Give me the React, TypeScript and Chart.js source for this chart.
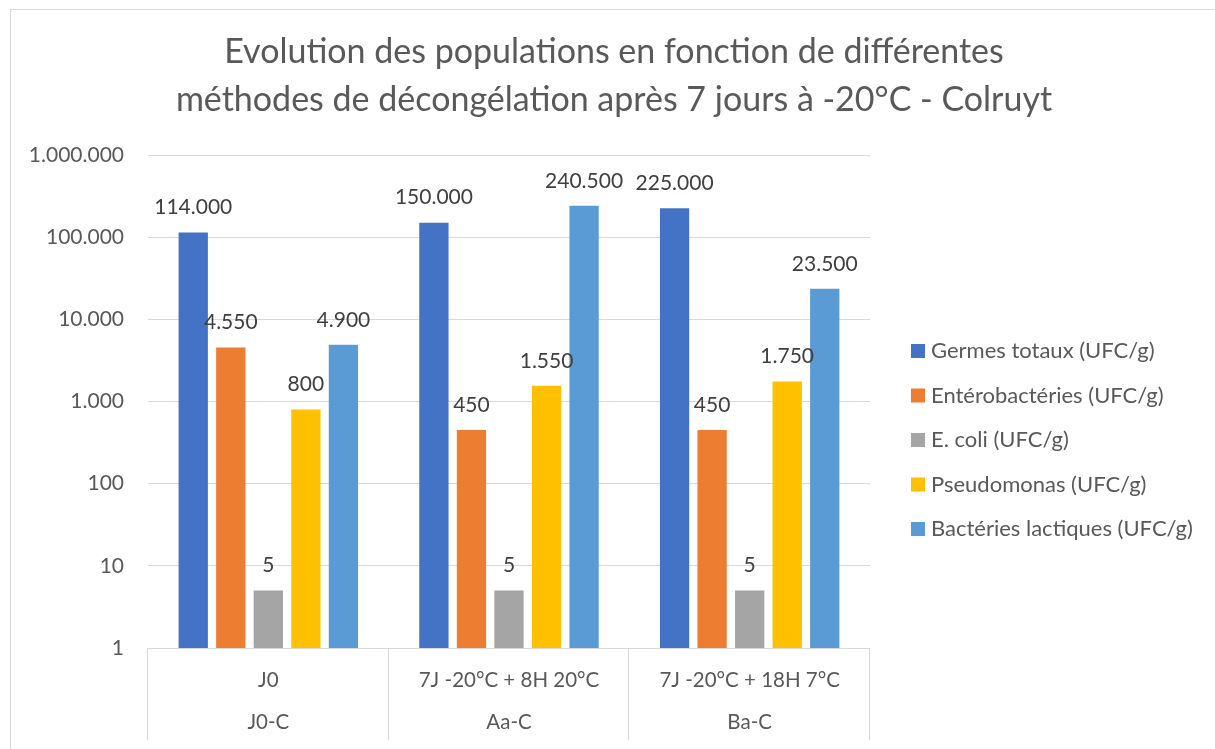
import React, { useEffect, useRef } from "react";
import { Chart, registerables } from "chart.js";

Chart.register(...registerables);

const categories = ["J0", "7J -20°C + 8H 20°C", "7J -20°C + 18H 7°C"];
const groups = ["J0-C", "Aa-C", "Ba-C"];
const seriesNames = [
  "Germes totaux (UFC/g)",
  "Entérobactéries (UFC/g)",
  "E. coli (UFC/g)",
  "Pseudomonas (UFC/g)",
  "Bactéries lactiques (UFC/g)",
];
const germesTotaux = [114000, 150000, 225000];
const enterobacteries = [4550, 450, 450];
const eColi = [5, 5, 5];
const pseudomonas = [800, 1550, 1750];
const bacteriesLactiques = [4900, 240500, 23500];
const seriesColors = ["#4472C4", "#ED7D31", "#A5A5A5", "#FFC000", "#5B9BD5"];
const yTicks = [1, 10, 100, 1000, 10000, 100000, 1000000];
const titleLines = [
  "Evolution des populations en fonction de différentes",
  "méthodes de décongélation après 7 jours à -20°C - Colruyt",
];

const FONT = "Lato, 'Open Sans', sans-serif";

function fmt(v: number): string {
  return String(Math.round(v)).replace(/\B(?=(\d{3})+(?!\d))/g, ".");
}

const customPlugin = {
  id: "custom",
  afterDraw(chart: any) {
    const ctx = chart.ctx as CanvasRenderingContext2D;
    const area = chart.chartArea;
    const W = chart.width;
    ctx.save();
    // outer border
    ctx.strokeStyle = "#d9d9d9";
    ctx.lineWidth = 1;
    ctx.strokeRect(10.5, 9.5, W + 20, 800);

    // title
    ctx.fillStyle = "#595959";
    ctx.font = `34px ${FONT}`;
    ctx.textAlign = "center";
    ctx.textBaseline = "middle";
    ctx.fillText(titleLines[0], 614, 52);
    ctx.fillText(titleLines[1], 614, 100);

    // category axis
    const x = chart.scales.x;
    const n = categories.length;
    const step = (area.right - area.left) / n;
    ctx.strokeStyle = "#d9d9d9";
    ctx.beginPath();
    ctx.moveTo(area.left, area.bottom + 0.5);
    ctx.lineTo(area.right, area.bottom + 0.5);
    for (let i = 0; i <= n; i++) {
      const px = Math.round(area.left + i * step) - 0.5;
      ctx.moveTo(px, area.bottom);
      ctx.lineTo(px, area.bottom + 92);
    }
    ctx.stroke();
    ctx.fillStyle = "#595959";
    ctx.font = `20.5px ${FONT}`;
    for (let i = 0; i < n; i++) {
      const cx = x.getPixelForValue(i);
      ctx.fillText(categories[i], cx, 680);
      ctx.fillText(groups[i], cx, 722);
    }

    // data labels
    ctx.fillStyle = "#404040";
    ctx.font = `21px ${FONT}`;
    chart.data.datasets.forEach((ds: any, di: number) => {
      const meta = chart.getDatasetMeta(di);
      meta.data.forEach((bar: any, i: number) => {
        ctx.fillText(fmt(ds.data[i]), bar.x, bar.y - 25);
      });
    });

    // legend
    ctx.textAlign = "left";
    ctx.font = `22px ${FONT}`;
    seriesNames.forEach((name, i) => {
      const cy = 351 + i * 44.5;
      ctx.fillStyle = seriesColors[i];
      ctx.fillRect(911, cy - 7, 14, 14);
      ctx.fillStyle = "#595959";
      ctx.fillText(name, 931, cy);
    });
    ctx.restore();
  },
};

export default function App() {
  const ref = useRef<HTMLCanvasElement | null>(null);
  useEffect(() => {
    if (!ref.current) return;
    const values = [germesTotaux, enterobacteries, eColi, pseudomonas, bacteriesLactiques];
    const chart = new Chart(ref.current, {
      type: "bar",
      data: {
        labels: categories,
        datasets: seriesNames.map((name, i) => ({
          label: name,
          data: values[i],
          backgroundColor: seriesColors[i],
          categoryPercentage: 0.78,
          barPercentage: 0.78,
        })),
      },
      options: {
        animation: false,
        responsive: false,
        maintainAspectRatio: false,
        layout: { padding: { left: 0, top: 155, right: 345, bottom: 0 } },
        plugins: {
          legend: { display: false },
          title: { display: false },
          tooltip: { enabled: false },
        },
        scales: {
          x: {
            grid: { display: false },
            border: { display: false },
            ticks: { display: false },
            afterFit: (s: any) => {
              s.height = 101;
            },
          },
          y: {
            type: "logarithmic",
            min: 1,
            max: 1000000,
            afterBuildTicks: (s: any) => {
              s.ticks = yTicks.map((v) => ({ value: v, major: true }));
            },
            afterFit: (s: any) => {
              s.width = 148;
            },
            grid: { color: "#d9d9d9", drawTicks: false },
            border: { display: false },
            ticks: {
              padding: 24,
              color: "#595959",
              font: { family: FONT, size: 21 },
              callback: (v: any) => fmt(Number(v)),
            },
          },
        },
      },
      plugins: [customPlugin],
    });
    return () => chart.destroy();
  }, []);
  return (
    <div style={{ position: "fixed", left: 0, top: 0, width: 1215, height: 749, background: "#fff" }}>
      <canvas ref={ref} width={1215} height={749} style={{ width: 1215, height: 749 }} />
    </div>
  );
}
